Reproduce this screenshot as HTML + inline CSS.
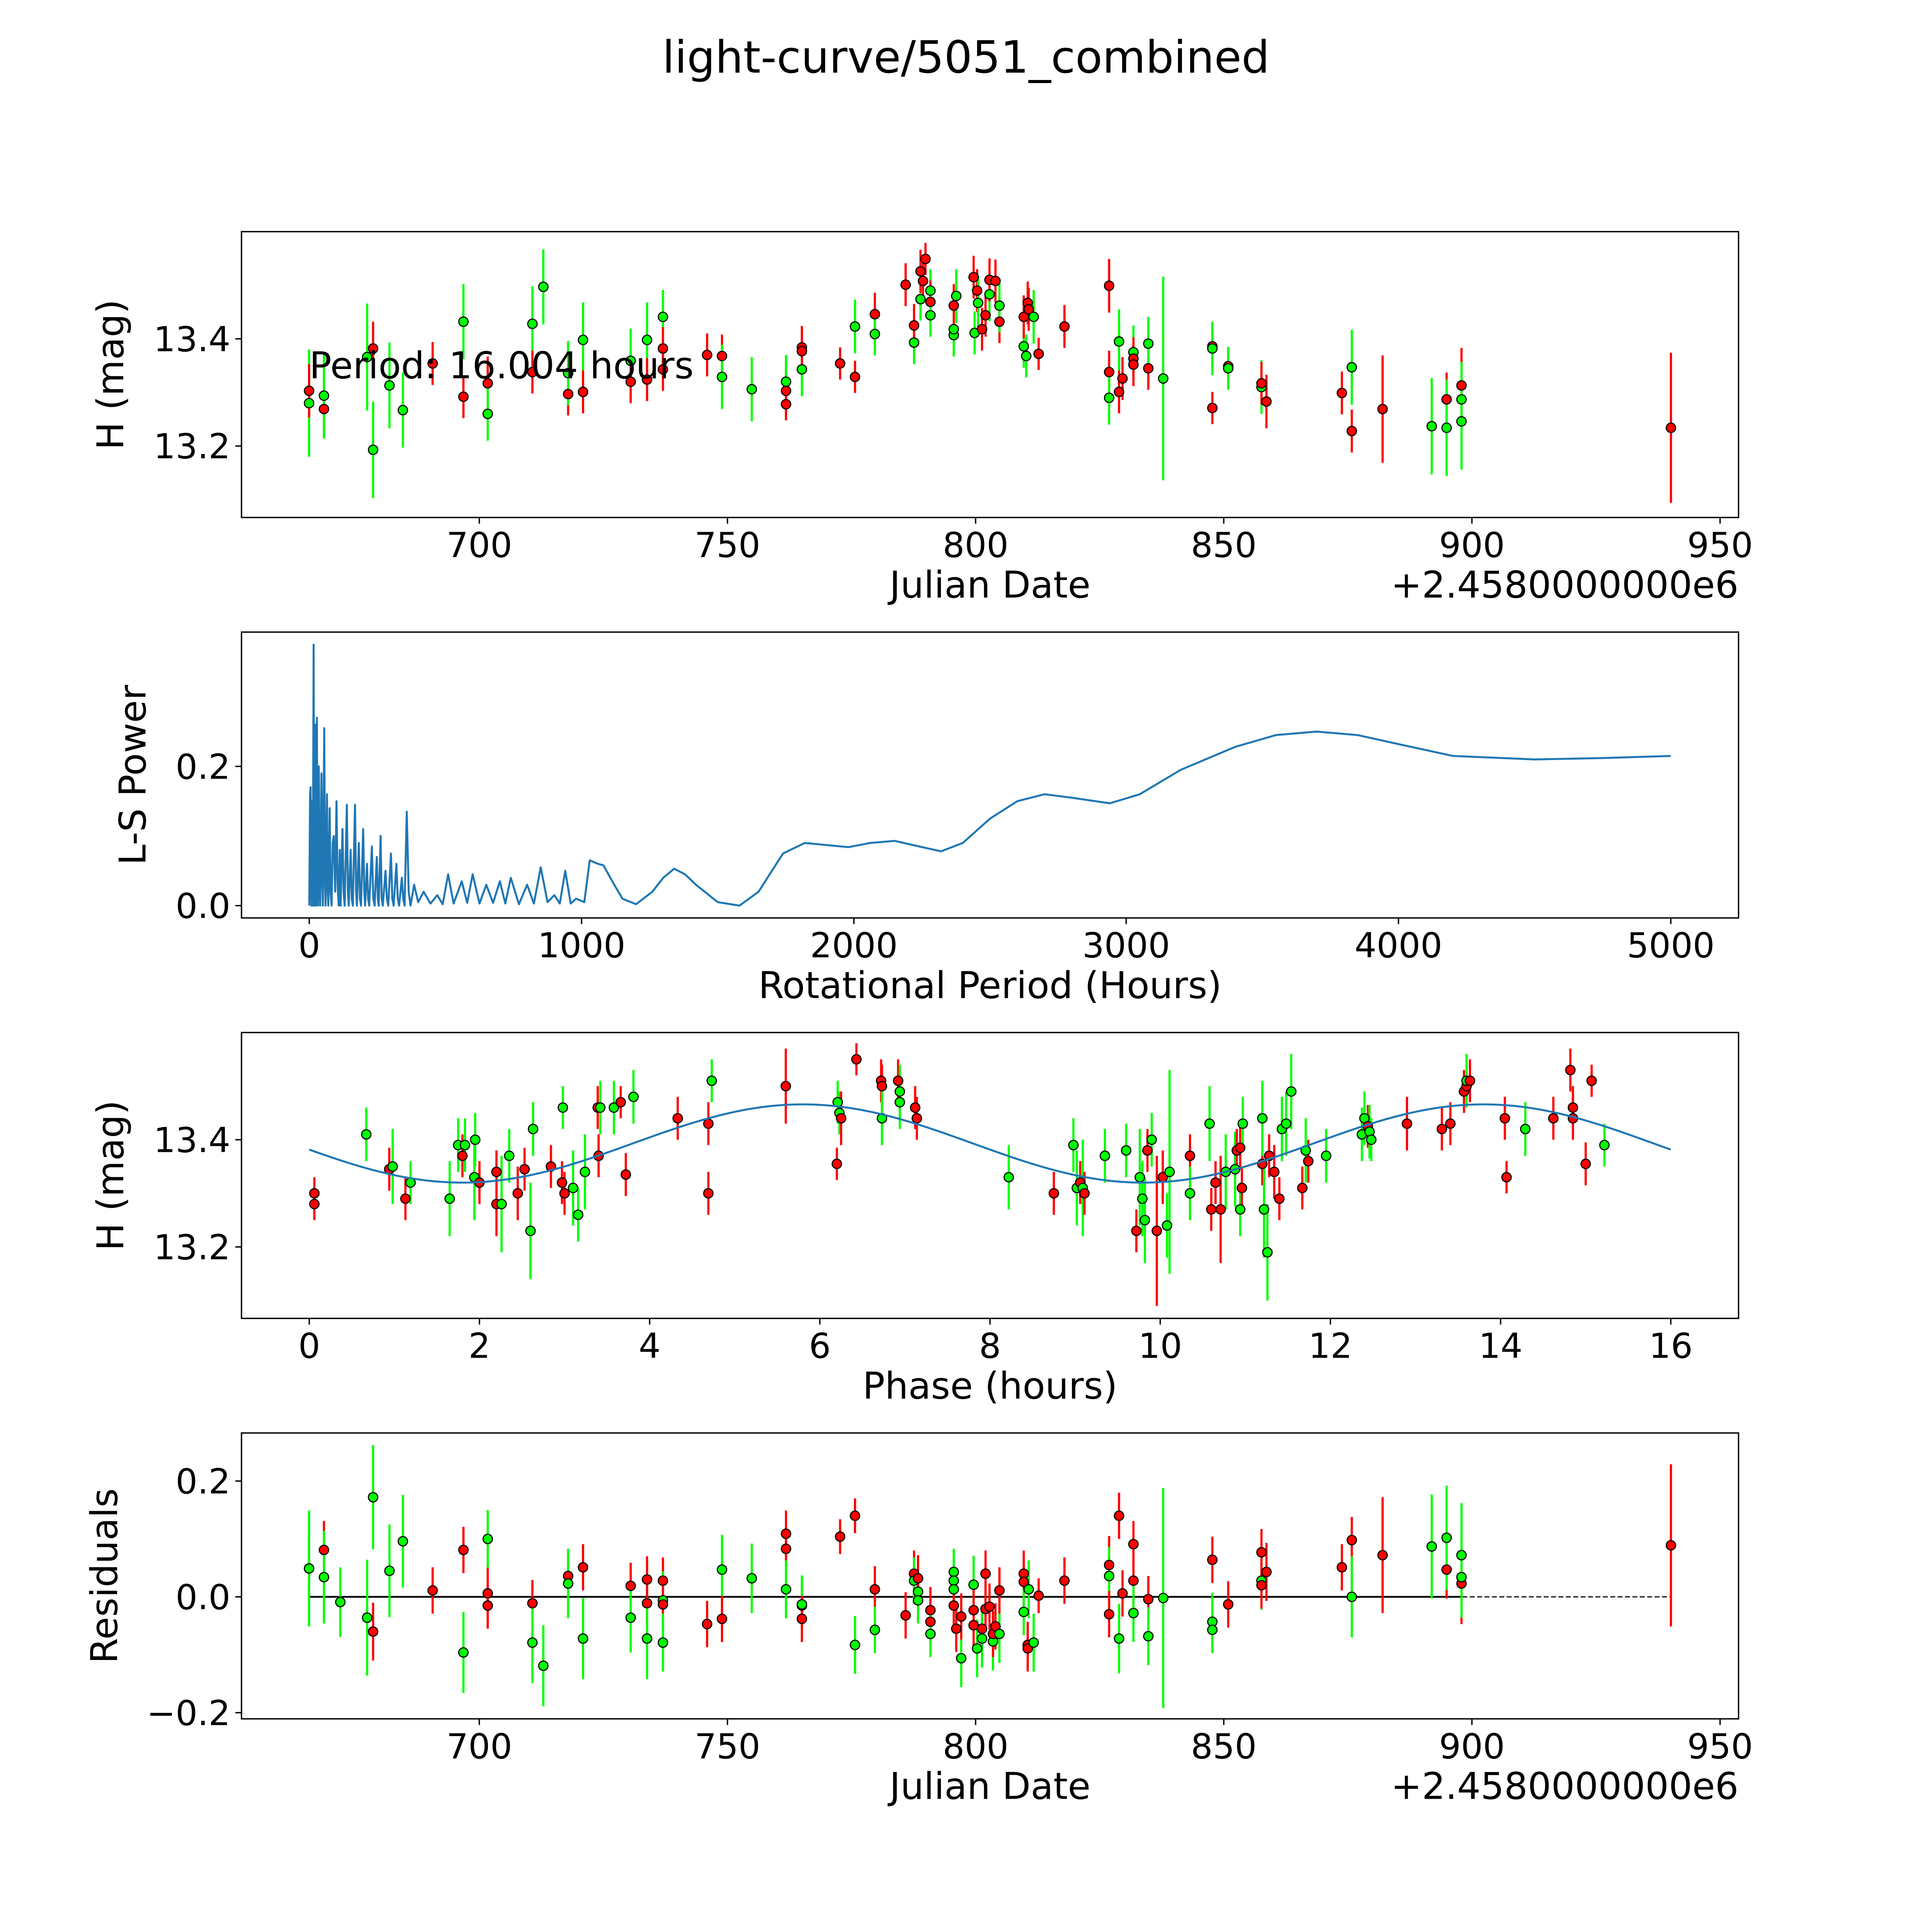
<!DOCTYPE html>
<html><head><meta charset="utf-8"><style>
html,body{margin:0;padding:0;background:#fff;overflow:hidden;width:100%;height:100%;}
svg{display:block;position:absolute;left:0;top:0;width:100vw;height:100vh;font-family:"DejaVu Sans","Liberation Sans",sans-serif;}
</style></head><body>
<svg id="fig" viewBox="0 0 1568 1568" preserveAspectRatio="none" xmlns="http://www.w3.org/2000/svg">
<rect width="1568" height="1568" fill="#fff"/>
<text x="784" y="59" font-size="36" text-anchor="middle">light-curve/5051_combined</text>
<g id="g1"></g>
<g id="g2"></g>
<g id="g3"></g>
<g id="g4"></g>
</svg>
<script>
// ---- data ----
const jdTicks=[700,750,800,850,900,950];
const magTicks=[13.2,13.4];
const periodTicks=[0,1000,2000,3000,4000,5000];
const powerTicks=[0.0,0.2];
const phaseTicks=[0,2,4,6,8,10,12,14,16];
const resTicks=[-0.2,0.0,0.2];
// [JD, mag, err, color]
const rawObs=[
[665.7,13.280,0.1,'g'],[665.7,13.303,0.05,'r'],[668.7,13.269,0.05,'r'],[668.7,13.294,0.08,'g'],[677.4,13.366,0.1,'g'],[678.6,13.382,0.05,'r'],[678.6,13.193,0.09,'g'],
[681.9,13.313,0.08,'g'],[684.6,13.267,0.07,'g'],[690.6,13.354,0.04,'r'],[696.8,13.432,0.07,'g'],[696.8,13.292,0.04,'r'],[701.7,13.317,0.05,'r'],[701.7,13.260,0.05,'g'],
[710.7,13.428,0.07,'g'],[710.7,13.338,0.04,'r'],[712.9,13.497,0.07,'g'],[717.9,13.297,0.04,'r'],[717.9,13.336,0.06,'g'],[720.9,13.398,0.07,'g'],[720.9,13.301,0.04,'r'],
[730.5,13.359,0.06,'g'],[730.5,13.320,0.04,'r'],[733.8,13.398,0.07,'g'],[733.8,13.324,0.04,'r'],[737.0,13.343,0.04,'r'],[737.0,13.441,0.05,'g'],[737.0,13.382,0.04,'r'],
[745.9,13.370,0.04,'r'],[748.9,13.368,0.04,'r'],[748.9,13.329,0.06,'g'],[754.9,13.306,0.06,'g'],[761.8,13.303,0.04,'r'],[761.8,13.320,0.05,'g'],[761.8,13.278,0.03,'r'],
[765.0,13.384,0.04,'r'],[765.0,13.343,0.05,'g'],[765.0,13.377,0.04,'r'],[772.7,13.354,0.03,'r'],[775.7,13.329,0.03,'r'],[775.7,13.423,0.05,'g'],[779.7,13.446,0.04,'r'],
[779.7,13.409,0.04,'g'],[785.9,13.501,0.04,'r'],[787.6,13.393,0.04,'g'],[787.6,13.425,0.04,'r'],[788.9,13.474,0.04,'g'],[788.9,13.526,0.04,'r'],[789.4,13.508,0.04,'r'],
[789.9,13.549,0.03,'r'],[790.9,13.490,0.04,'g'],[790.9,13.469,0.04,'r'],[790.9,13.444,0.04,'g'],[795.6,13.407,0.04,'g'],[795.6,13.418,0.05,'g'],[795.6,13.462,0.04,'r'],
[796.1,13.480,0.05,'g'],[799.6,13.515,0.04,'r'],[799.8,13.411,0.04,'g'],[800.3,13.490,0.04,'r'],[800.5,13.467,0.05,'g'],[801.3,13.418,0.04,'r'],[802.0,13.444,0.04,'r'],
[802.8,13.483,0.05,'g'],[802.8,13.510,0.04,'r'],[804.0,13.508,0.04,'r'],[804.8,13.432,0.04,'r'],[804.8,13.462,0.05,'g'],[809.7,13.386,0.04,'g'],[809.7,13.441,0.04,'r'],
[810.2,13.368,0.04,'g'],[810.5,13.467,0.04,'r'],[810.7,13.455,0.04,'r'],[811.7,13.441,0.05,'g'],[812.7,13.372,0.03,'r'],[817.9,13.423,0.04,'r'],[826.9,13.499,0.05,'r'],
[826.9,13.338,0.04,'r'],[826.9,13.290,0.05,'g'],[828.9,13.395,0.06,'g'],[828.9,13.301,0.04,'r'],[829.6,13.326,0.04,'r'],[831.8,13.375,0.05,'g'],[831.8,13.363,0.04,'r'],
[831.8,13.352,0.04,'r'],[834.8,13.345,0.04,'r'],[834.8,13.391,0.05,'g'],[837.8,13.326,0.19,'g'],[847.7,13.386,0.04,'r'],[847.7,13.382,0.05,'g'],[847.7,13.271,0.03,'r'],
[850.9,13.349,0.03,'r'],[850.9,13.345,0.04,'g'],[857.6,13.310,0.05,'g'],[857.6,13.317,0.04,'r'],[858.6,13.283,0.05,'r'],[873.8,13.299,0.04,'r'],[875.8,13.347,0.07,'g'],
[875.8,13.228,0.04,'r'],[882.0,13.269,0.1,'r'],[891.9,13.237,0.09,'g'],[894.9,13.287,0.05,'r'],[894.9,13.234,0.09,'g'],[897.9,13.313,0.07,'r'],[897.9,13.287,0.07,'g'],
[897.9,13.246,0.09,'g'],[940.1,13.234,0.14,'r']];
// periodogram samples (each line of periods matches the same line of powers)
const periodSamples=[
0,3,5,7,8,10,12,13,16,18,19,22,24,25,28,30,32,35,38,40,
45,48,50,55,58,60,65,68,70,75,78,82,86,90,95,100,104,108,112,115,
122,126,130,138,142,145,152,156,160,168,172,175,182,186,190,198,202,205,212,216,
220,230,235,240,248,252,255,262,266,270,280,285,290,300,305,310,320,325,330,340,
345,350,358,365,372,385,400,420,445,470,490,510,530,560,580,600,625,650,675,700,
720,740,770,800,825,850,875,900,920,940,960,980,1010,1030,1060,1080,1120,1150,1200,1260,
1300,1340,1380,1420,1500,1580,1650,1740,1820,1900,1980,2060,2150,2240,2320,2400,2500,2600,2700,2800,
2940,3050,3200,3400,3550,3700,3850,4000,4200,4500,4750,5000];
const powerSamples=[
0,0.16,0.17,0.02,0,0.15,0.03,0,0.375,0.05,0,0.26,0.04,0,0.27,0.05,0,0.2,0.04,0,
0.19,0.03,0,0.255,0.03,0,0.16,0.02,0,0.14,0.02,0,0.09,0.1,0.02,0.15,0.03,0,0.08,0,
0.11,0.02,0,0.145,0.02,0,0.08,0.01,0,0.145,0.02,0,0.09,0.01,0,0.11,0.02,0,0.06,0.01,
0,0.085,0.01,0,0.07,0.01,0,0.1,0.01,0,0.05,0.01,0,0.075,0.01,0,0.06,0.01,0,0.04,
0.01,0,0.135,0.02,0,0.03,0.005,0.02,0.003,0.015,0.002,0.045,0.003,0.035,0.004,0.045,0.003,0.03,0.004,0.035,
0.003,0.04,0.002,0.03,0.003,0.055,0.005,0.015,0.003,0.05,0.003,0.01,0.005,0.065,0.06,0.058,0.03,0.01,0.002,0.02,
0.04,0.053,0.045,0.03,0.005,0.0,0.02,0.075,0.09,0.087,0.084,0.09,0.093,0.085,0.078,0.09,0.125,0.15,0.16,0.155,
0.147,0.16,0.195,0.228,0.245,0.25,0.245,0.232,0.215,0.21,0.212,0.215];
// [phase, mag, err, color]
const phasedObs=[
[0.06,13.30,0.03,'r'],[0.06,13.28,0.03,'r'],[0.67,13.41,0.05,'g'],[0.94,13.345,0.04,'r'],[0.98,13.35,0.07,'g'],[1.13,13.29,0.04,'r'],[1.19,13.32,0.04,'g'],[1.65,13.29,0.07,'g'],
[1.75,13.39,0.05,'g'],[1.8,13.37,0.04,'r'],[1.83,13.39,0.05,'g'],[1.94,13.33,0.08,'g'],[1.95,13.40,0.05,'g'],[2.0,13.32,0.04,'r'],[2.2,13.34,0.04,'r'],[2.2,13.28,0.06,'r'],
[2.26,13.28,0.09,'g'],[2.35,13.37,0.05,'g'],[2.45,13.30,0.05,'r'],[2.53,13.345,0.04,'r'],[2.6,13.23,0.09,'g'],[2.63,13.42,0.05,'g'],[2.84,13.35,0.04,'r'],[2.97,13.32,0.04,'r'],
[2.98,13.46,0.04,'g'],[3.0,13.30,0.04,'r'],[3.1,13.31,0.07,'g'],[3.16,13.26,0.05,'g'],[3.24,13.34,0.07,'g'],[3.39,13.46,0.04,'r'],[3.4,13.37,0.04,'r'],[3.42,13.46,0.05,'g'],
[3.58,13.46,0.05,'g'],[3.66,13.47,0.03,'r'],[3.72,13.335,0.04,'r'],[3.81,13.48,0.05,'g'],[4.33,13.44,0.04,'r'],[4.69,13.43,0.04,'r'],[4.69,13.30,0.04,'r'],[4.73,13.51,0.04,'g'],
[5.6,13.50,0.07,'r'],[6.2,13.355,0.03,'r'],[6.21,13.47,0.04,'g'],[6.23,13.45,0.04,'g'],[6.25,13.44,0.05,'r'],[6.43,13.55,0.03,'r'],[6.72,13.51,0.04,'r'],[6.73,13.50,0.04,'r'],
[6.73,13.44,0.05,'g'],[6.92,13.51,0.04,'r'],[6.94,13.49,0.05,'g'],[6.94,13.47,0.05,'g'],[7.12,13.46,0.04,'r'],[7.14,13.44,0.04,'r'],[8.22,13.33,0.06,'g'],[8.75,13.30,0.04,'r'],
[8.98,13.39,0.05,'g'],[9.02,13.31,0.07,'g'],[9.06,13.32,0.04,'r'],[9.09,13.31,0.09,'g'],[9.11,13.30,0.04,'r'],[9.35,13.37,0.05,'g'],[9.6,13.38,0.05,'g'],[9.72,13.23,0.04,'r'],
[9.76,13.33,0.09,'g'],[9.79,13.29,0.07,'g'],[9.82,13.25,0.08,'g'],[9.85,13.38,0.04,'r'],[9.9,13.40,0.05,'g'],[9.96,13.23,0.14,'r'],[10.03,13.33,0.05,'r'],[10.08,13.24,0.06,'g'],
[10.11,13.34,0.19,'g'],[10.35,13.37,0.04,'r'],[10.35,13.30,0.05,'g'],[10.58,13.43,0.07,'g'],[10.6,13.27,0.04,'r'],[10.65,13.32,0.04,'r'],[10.71,13.27,0.1,'r'],[10.77,13.34,0.07,'g'],
[10.88,13.345,0.07,'g'],[10.9,13.38,0.04,'r'],[10.94,13.385,0.04,'r'],[10.94,13.27,0.05,'g'],[10.96,13.31,0.04,'r'],[10.97,13.43,0.05,'g'],[11.2,13.355,0.04,'r'],[11.2,13.44,0.07,'g'],
[11.22,13.27,0.09,'g'],[11.26,13.19,0.09,'g'],[11.28,13.37,0.04,'r'],[11.34,13.34,0.05,'r'],[11.4,13.29,0.04,'r'],[11.43,13.42,0.06,'g'],[11.48,13.43,0.06,'g'],[11.54,13.49,0.07,'g'],
[11.67,13.31,0.04,'r'],[11.71,13.38,0.06,'g'],[11.74,13.36,0.04,'r'],[11.95,13.37,0.05,'g'],[12.37,13.41,0.05,'g'],[12.4,13.44,0.05,'g'],[12.44,13.425,0.04,'r'],[12.46,13.415,0.05,'g'],
[12.48,13.40,0.04,'g'],[12.9,13.43,0.05,'r'],[13.31,13.42,0.04,'r'],[13.41,13.43,0.04,'r'],[13.57,13.49,0.04,'r'],[13.6,13.50,0.04,'r'],[13.6,13.51,0.05,'g'],[13.64,13.51,0.04,'r'],
[14.05,13.44,0.04,'r'],[14.07,13.33,0.03,'r'],[14.29,13.42,0.05,'g'],[14.62,13.44,0.04,'r'],[14.82,13.53,0.04,'r'],[14.85,13.46,0.04,'r'],[14.85,13.44,0.04,'r'],[15.0,13.355,0.04,'r'],
[15.07,13.51,0.03,'r'],[15.22,13.39,0.04,'g']];
// model: [mean, amplitude, peak phase, period]
const modelParams=[13.393,0.073,5.8,8.0];
// [JD, residual, err, color]
const residObs=[
[665.7,0.049,0.06,'r'],[665.7,0.049,0.1,'g'],[668.7,0.081,0.05,'r'],[668.7,0.034,0.08,'g'],[672.0,-0.009,0.06,'g'],[677.4,-0.036,0.1,'g'],[678.6,-0.06,0.05,'r'],[678.6,0.172,0.09,'g'],
[681.9,0.045,0.08,'g'],[684.6,0.096,0.08,'g'],[690.6,0.011,0.04,'r'],[696.8,0.081,0.04,'r'],[696.8,-0.096,0.07,'g'],[701.7,0.006,0.05,'r'],[701.7,0.1,0.05,'g'],[701.7,-0.015,0.04,'r'],
[710.7,-0.011,0.04,'r'],[710.7,-0.079,0.07,'g'],[712.9,-0.119,0.07,'g'],[717.9,0.036,0.04,'r'],[717.9,0.023,0.06,'g'],[720.9,0.051,0.04,'r'],[720.9,-0.072,0.07,'g'],
[730.5,0.019,0.04,'r'],[730.5,-0.036,0.06,'g'],[733.8,0.03,0.04,'r'],[733.8,-0.011,0.04,'r'],[733.8,-0.072,0.07,'g'],[737.0,0.028,0.04,'r'],[737.0,-0.006,0.05,'g'],[737.0,-0.013,0.04,'r'],
[737.0,-0.079,0.05,'g'],[745.9,-0.047,0.04,'r'],[748.9,0.047,0.06,'g'],[748.9,-0.038,0.04,'r'],[754.9,0.032,0.06,'g'],[761.8,0.109,0.04,'r'],[761.8,0.083,0.03,'r'],[761.8,0.013,0.05,'g'],
[765.0,-0.015,0.04,'r'],[765.0,-0.013,0.05,'g'],[765.0,-0.038,0.04,'r'],[772.7,0.104,0.03,'r'],[775.7,0.14,0.03,'r'],[775.7,-0.083,0.05,'g'],[779.7,0.013,0.04,'r'],[779.7,-0.057,0.04,'g'],
[785.9,-0.032,0.04,'r'],[787.6,0.04,0.04,'r'],[787.6,0.028,0.04,'g'],[788.4,0.009,0.04,'g'],[788.4,-0.006,0.04,'g'],[788.4,0.032,0.04,'r'],[790.9,-0.023,0.04,'r'],[790.9,-0.043,0.04,'r'],
[790.9,-0.064,0.04,'g'],[795.6,0.043,0.04,'g'],[795.6,0.028,0.05,'g'],[795.6,0.013,0.04,'g'],[795.6,-0.015,0.04,'r'],[796.1,-0.055,0.04,'r'],[797.1,-0.106,0.05,'g'],[797.1,-0.034,0.04,'r'],
[799.6,0.021,0.05,'g'],[799.6,-0.023,0.04,'r'],[799.6,-0.049,0.04,'r'],[800.3,-0.089,0.05,'g'],[801.3,-0.055,0.04,'r'],[801.3,-0.072,0.05,'g'],[802.0,0.04,0.04,'r'],[802.0,-0.021,0.04,'r'],
[802.8,-0.017,0.04,'r'],[803.5,-0.077,0.05,'g'],[803.5,-0.064,0.04,'r'],[804.0,-0.051,0.04,'r'],[804.8,-0.064,0.05,'g'],[804.8,0.011,0.04,'r'],[809.7,0.04,0.04,'r'],[809.7,0.026,0.04,'r'],
[809.7,-0.026,0.04,'g'],[810.5,-0.083,0.04,'r'],[810.5,-0.089,0.04,'r'],[810.7,0.013,0.05,'g'],[811.7,-0.079,0.05,'g'],[812.7,0.002,0.03,'r'],[817.9,0.028,0.04,'r'],
[826.9,0.055,0.05,'r'],[826.9,0.036,0.05,'g'],[826.9,-0.03,0.04,'r'],[828.9,0.14,0.04,'r'],[828.9,-0.072,0.06,'g'],[829.6,0.006,0.04,'r'],[831.8,0.091,0.04,'r'],[831.8,0.028,0.04,'r'],
[831.8,-0.028,0.05,'g'],[834.8,-0.004,0.04,'r'],[834.8,-0.068,0.05,'g'],[837.8,-0.002,0.19,'g'],[847.7,0.064,0.04,'r'],[847.7,-0.043,0.05,'g'],[847.7,-0.057,0.04,'g'],[850.9,-0.013,0.04,'r'],
[857.6,0.028,0.05,'g'],[857.6,0.077,0.04,'r'],[857.6,0.02,0.04,'r'],[858.6,0.043,0.05,'r'],[873.8,0.051,0.04,'r'],[875.8,0.098,0.04,'r'],[875.8,0,0.07,'g'],[882.0,0.072,0.1,'r'],
[891.9,0.087,0.09,'g'],[894.9,0.047,0.05,'r'],[894.9,0.102,0.09,'g'],[897.9,0.023,0.07,'r'],[897.9,0.034,0.07,'g'],[897.9,0.072,0.09,'g'],[940.1,0.089,0.14,'r']];

// ---- drawing helpers ----
const NS='http://www.w3.org/2000/svg';
function mk(tag,attrs,parent){const e=document.createElementNS(NS,tag);for(const k in attrs)e.setAttribute(k,attrs[k]);parent.appendChild(e);return e;}
const L=196,R=1411;
function lin(d0,d1,p0,p1){return v=>p0+(v-d0)*(p1-p0)/(d1-d0);}
function frame(g,top,bot,xs,ys,xt,yt,xfmt,yfmt,xlabel,ylabel,ylx,offset){
  const f=mk('rect',{x:L,y:top,width:R-L,height:bot-top,fill:'none',stroke:'#000','stroke-width':1.1},g);
  
  
  xt.forEach(v=>{const x=xs(v);
    const t=mk('line',{x1:x,x2:x,y1:bot,y2:bot+5,stroke:'#000','stroke-width':1.1},g);
    
    
    const tx=mk('text',{x:x,y:bot+32,'font-size':28,'text-anchor':'middle'},g);tx.textContent=xfmt(v);
    
    });
  yt.forEach(v=>{const y=ys(v);
    const t=mk('line',{x1:L-5,x2:L,y1:y,y2:y,stroke:'#000','stroke-width':1.1},g);
    
    
    const tx=mk('text',{x:L-9,y:y+10,'font-size':28,'text-anchor':'end'},g);tx.textContent=yfmt(v);
    
    });
  const xl=mk('text',{x:(L+R)/2,y:bot+65,'font-size':30,'text-anchor':'middle'},g);xl.textContent=xlabel;
  
  
  const cy=(top+bot)/2;
  const yl=mk('text',{x:ylx,y:cy,'font-size':30,'text-anchor':'middle',transform:`rotate(-90 ${ylx} ${cy})`},g);yl.textContent=ylabel;
  
  
  if(offset){const o=mk('text',{x:R,y:bot+65,'font-size':30,'text-anchor':'end'},g);o.textContent=offset;
    
    }
}
function points(g,data,xs,ys){
  data.forEach(d=>{const x=xs(d[0]);
    const e=mk('line',{x1:x,x2:x,y1:ys(d[1]-d[2]),y2:ys(d[1]+d[2]),stroke:d[3]==='r'?'#ff0000':'#00ff00','stroke-width':1.8},g);
    
    
  });
  data.forEach(d=>{
    const c=mk('circle',{cx:xs(d[0]),cy:ys(d[1]),r:3.8,fill:d[3]==='r'?'#ff0000':'#00ff00',stroke:'#000','stroke-width':0.9},g);
    
    
  });
}
const f2=v=>v.toFixed(1);
const fm=v=>v.toFixed(1);

// Panel 1
(function(){const g=document.getElementById('g1');const top=188,bot=420;
  const xs=lin(700,950,389,1396),ys=lin(13.2,13.4,362,275);
  frame(g,top,bot,xs,ys,jdTicks,magTicks,v=>String(v),fm,'Julian Date','H (mag)',100,'+2.4580000000e6');
  points(g,rawObs,xs,ys);
  const t=mk('text',{x:251,y:307,'font-size':30},g);t.textContent='Period: 16.004 hours';
  
  
})();
// Panel 2
(function(){const g=document.getElementById('g2');const top=513,bot=745;
  const xs=lin(0,5000,251,1356),ys=lin(0,0.2,735,622);
  frame(g,top,bot,xs,ys,periodTicks,powerTicks,v=>String(v),f2,'Rotational Period (Hours)','L-S Power',118,null);
  const pts=periodSamples.map((p,i)=>xs(p).toFixed(2)+','+ys(powerSamples[i]).toFixed(2)).join(' ');
  const pl=mk('polyline',{points:pts,fill:'none',stroke:'#1f77b4','stroke-width':1.6,'stroke-linejoin':'round'},g);
  
  
})();
// Panel 3
(function(){const g=document.getElementById('g3');const top=838,bot=1070;
  const xs=lin(0,16,251,1356),ys=lin(13.2,13.4,1012,925);
  frame(g,top,bot,xs,ys,phaseTicks,magTicks,v=>String(v),fm,'Phase (hours)','H (mag)',100,null);
  points(g,phasedObs,xs,ys);
  const [m,a,pk,per]=modelParams;let s=[];
  for(let i=0;i<=200;i++){const p=16*i/200;s.push(xs(p).toFixed(2)+','+ys(m+a*Math.cos(2*Math.PI*(p-pk)/per)).toFixed(2));}
  const pl=mk('polyline',{points:s.join(' '),fill:'none',stroke:'#1f77b4','stroke-width':1.6},g);
  
  
})();
// Panel 4
(function(){const g=document.getElementById('g4');const top=1163,bot=1395;
  const xs=lin(700,950,389,1396),ys=lin(0,0.2,1296,1202);
  frame(g,top,bot,xs,ys,jdTicks,resTicks,v=>String(v),v=>(v<0?'\u22120.2':v.toFixed(1)),'Julian Date','Residuals',95,'+2.4580000000e6');
  const d=mk('line',{x1:xs(665.7),x2:xs(940.1),y1:ys(0),y2:ys(0),stroke:'#000','stroke-width':0.9,'stroke-dasharray':'4,2'},g);
  
  
  const s=mk('line',{x1:xs(665.7),x2:xs(897.9),y1:ys(0),y2:ys(0),stroke:'#000','stroke-width':1.4},g);
  
  
  points(g,residObs,xs,ys);
})();
</script>
</body></html>
